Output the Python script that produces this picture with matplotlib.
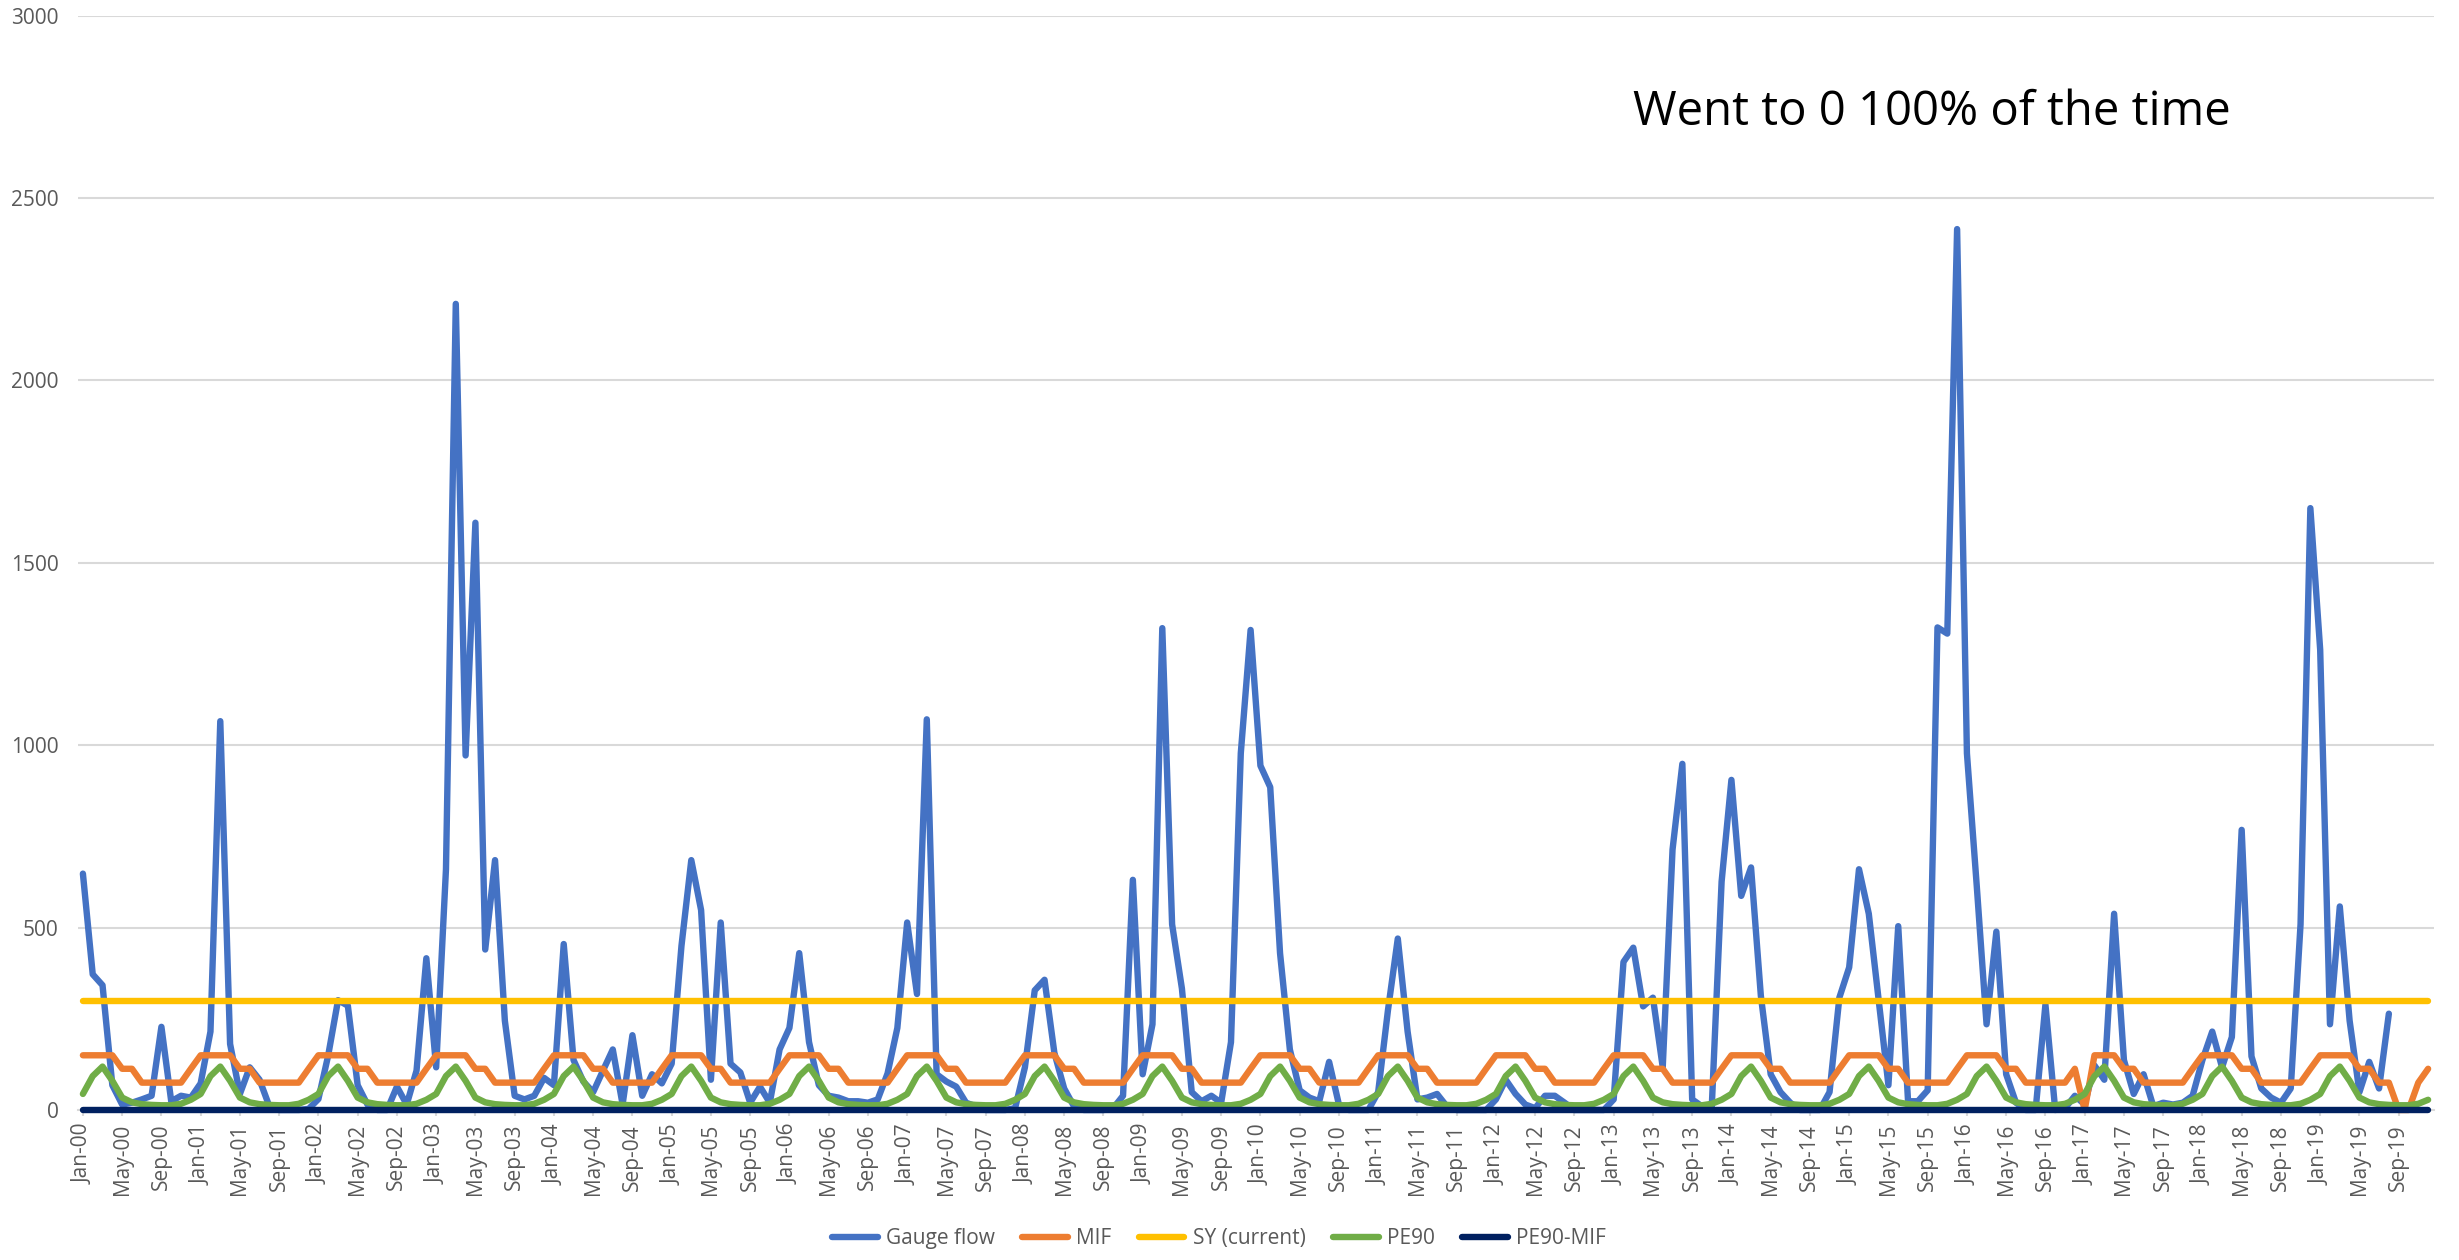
import matplotlib
matplotlib.use("Agg")
import matplotlib.pyplot as plt

plt.rcParams['font.family'] = ['Open Sans', 'DejaVu Sans']

# ---- categories (monthly, Jan-00 .. Dec-19) ----
month_names = ["Jan", "Feb", "Mar", "Apr", "May", "Jun",
               "Jul", "Aug", "Sep", "Oct", "Nov", "Dec"]
years = ["00", "01", "02", "03", "04", "05", "06", "07", "08", "09",
         "10", "11", "12", "13", "14", "15", "16", "17", "18", "19"]
months = [f"{m}-{y}" for y in years for m in month_names]

# ---- series values ----
gauge_flow = [
    648, 372, 342, 68, 15, 20, 29, 39, 228, 24, 39, 34,          # 2000
    73, 215, 1066, 181, 44, 117, 83, 10, 0, 0, 0, 3,             # 2001
    30, 150, 301, 286, 68, 15, 0, 0, 64, 15, 108, 416,           # 2002
    117, 660, 2210, 972, 1610, 440, 685, 245, 39, 29, 39, 88,    # 2003
    68, 455, 137, 78, 49, 108, 166, 15, 205, 39, 98, 73,         # 2004
    127, 450, 685, 548, 83, 514, 127, 103, 20, 64, 20, 166,      # 2005
    225, 430, 186, 68, 39, 34, 24, 24, 20, 29, 100, 225,         # 2006
    514, 318, 1071, 98, 78, 64, 20, 10, 0, 0, 0, 5,              # 2007
    117, 328, 357, 157, 59, 10, 0, 0, 0, 5, 39, 631,             # 2008
    98, 235, 1321, 509, 333, 49, 24, 39, 20, 186, 978, 1316,     # 2009
    944, 885, 430, 166, 54, 34, 24, 132, 15, 0, 0, 0,            # 2010
    49, 274, 470, 215, 29, 34, 44, 10, 0, 0, 0, 0,               # 2011
    29, 83, 44, 15, 5, 39, 39, 20, 0, 0, 0, 0,                   # 2012
    29, 406, 445, 284, 308, 117, 714, 949, 29, 10, 10, 626,      # 2013
    905, 587, 665, 313, 98, 49, 20, 0, 0, 0, 49, 308,            # 2014
    391, 660, 538, 303, 68, 504, 24, 24, 54, 1323, 1306, 2415,   # 2015
    978, 615, 235, 489, 98, 20, 0, 0, 289, 0, 5, 39,             # 2016
    15, 122, 83, 538, 137, 44, 98, 10, 20, 15, 20, 39,           # 2017
    137, 215, 117, 200, 768, 147, 59, 34, 20, 59, 509, 1650,     # 2018
    1262, 235, 558, 245, 49, 132, 59, 264,                       # 2019 (to Aug)
]

mif = [
    150, 150, 150, 150, 113, 113, 75, 75, 75, 75, 75, 113,   # 2000
    150, 150, 150, 150, 113, 113, 75, 75, 75, 75, 75, 113,   # 2001
    150, 150, 150, 150, 113, 113, 75, 75, 75, 75, 75, 113,   # 2002
    150, 150, 150, 150, 113, 113, 75, 75, 75, 75, 75, 113,   # 2003
    150, 150, 150, 150, 113, 113, 75, 75, 75, 75, 75, 113,   # 2004
    150, 150, 150, 150, 113, 113, 75, 75, 75, 75, 75, 113,   # 2005
    150, 150, 150, 150, 113, 113, 75, 75, 75, 75, 75, 113,   # 2006
    150, 150, 150, 150, 113, 113, 75, 75, 75, 75, 75, 113,   # 2007
    150, 150, 150, 150, 113, 113, 75, 75, 75, 75, 75, 113,   # 2008
    150, 150, 150, 150, 113, 113, 75, 75, 75, 75, 75, 113,   # 2009
    150, 150, 150, 150, 113, 113, 75, 75, 75, 75, 75, 113,   # 2010
    150, 150, 150, 150, 113, 113, 75, 75, 75, 75, 75, 113,   # 2011
    150, 150, 150, 150, 113, 113, 75, 75, 75, 75, 75, 113,   # 2012
    150, 150, 150, 150, 113, 113, 75, 75, 75, 75, 75, 113,   # 2013
    150, 150, 150, 150, 113, 113, 75, 75, 75, 75, 75, 113,   # 2014
    150, 150, 150, 150, 113, 113, 75, 75, 75, 75, 75, 113,   # 2015
    150, 150, 150, 150, 113, 113, 75, 75, 75, 75, 75, 113,   # 2016
    0, 150, 150, 150, 113, 113, 75, 75, 75, 75, 75, 113,     # 2017
    150, 150, 150, 150, 113, 113, 75, 75, 75, 75, 75, 113,   # 2018
    150, 150, 150, 150, 113, 113, 75, 75, 0, 0, 75, 113,     # 2019
]

pe90 = [
    44, 93, 119, 80, 34, 21, 16, 14, 13, 13, 17, 28,   # 2000
    44, 93, 119, 80, 34, 21, 16, 14, 13, 13, 17, 28,   # 2001
    44, 93, 119, 80, 34, 21, 16, 14, 13, 13, 17, 28,   # 2002
    44, 93, 119, 80, 34, 21, 16, 14, 13, 13, 17, 28,   # 2003
    44, 93, 119, 80, 34, 21, 16, 14, 13, 13, 17, 28,   # 2004
    44, 93, 119, 80, 34, 21, 16, 14, 13, 13, 17, 28,   # 2005
    44, 93, 119, 80, 34, 21, 16, 14, 13, 13, 17, 28,   # 2006
    44, 93, 119, 80, 34, 21, 16, 14, 13, 13, 17, 28,   # 2007
    44, 93, 119, 80, 34, 21, 16, 14, 13, 13, 17, 28,   # 2008
    44, 93, 119, 80, 34, 21, 16, 14, 13, 13, 17, 28,   # 2009
    44, 93, 119, 80, 34, 21, 16, 14, 13, 13, 17, 28,   # 2010
    44, 93, 119, 80, 34, 21, 16, 14, 13, 13, 17, 28,   # 2011
    44, 93, 119, 80, 34, 21, 16, 14, 13, 13, 17, 28,   # 2012
    44, 93, 119, 80, 34, 21, 16, 14, 13, 13, 17, 28,   # 2013
    44, 93, 119, 80, 34, 21, 16, 14, 13, 13, 17, 28,   # 2014
    44, 93, 119, 80, 34, 21, 16, 14, 13, 13, 17, 28,   # 2015
    44, 93, 119, 80, 34, 21, 16, 14, 13, 13, 17, 28,   # 2016
    44, 93, 119, 80, 34, 21, 16, 14, 13, 13, 17, 28,   # 2017
    44, 93, 119, 80, 34, 21, 16, 14, 13, 13, 17, 28,   # 2018
    44, 93, 119, 80, 34, 21, 16, 14, 13, 13, 17, 28,   # 2019
]

sy_current = [300] * len(months)
pe90_minus_mif = [0] * len(months)

series_names = ["Gauge flow", "MIF", "SY (current)", "PE90", "PE90-MIF"]
series_colors = ["#4472C4", "#ED7D31", "#FFC000", "#70AD47", "#002060"]

y_ticks = [0, 500, 1000, 1500, 2000, 2500, 3000]
annotation = "Went to 0 100% of the time"

# ---- figure ----
W, H, DPI = 2459, 1260, 200
fig = plt.figure(figsize=(W / DPI, H / DPI), dpi=DPI)
ax = fig.add_axes([78 / W, 1 - 1110 / H, (2434 - 78) / W, (1110 - 15.7) / H])

all_series = [gauge_flow, mif, sy_current, pe90, pe90_minus_mif]
for k, (vals, name, col) in enumerate(zip(all_series, series_names, series_colors)):
    x = list(range(len(vals)))
    ax.plot(x, vals, color=col, lw=2.3, label=name, zorder=3 + k,
            solid_capstyle='round', solid_joinstyle='round', clip_on=False)

ax.set_xlim(-0.5, 239.6)
ax.set_ylim(0, 3000)
ax.set_yticks(y_ticks)
ax.set_yticklabels([str(v) for v in y_ticks])
tick_pos = list(range(0, len(months), 4))
ax.set_xticks(tick_pos)
ax.set_xticklabels([months[i] for i in tick_pos], rotation=90)

ax.grid(axis='y', color='#D9D9D9', lw=0.75, zorder=0)
ax.set_axisbelow(True)
for s in ['top', 'right', 'left']:
    ax.spines[s].set_visible(False)
ax.spines['bottom'].set_color('#D9D9D9')
ax.spines['bottom'].set_linewidth(0.75)

ax.tick_params(axis='y', length=0, pad=7, labelsize=7.5, labelcolor='#595959')
ax.tick_params(axis='x', length=2, width=0.75, color='#D9D9D9', pad=3,
               labelsize=7.5, labelcolor='#595959')

fig.text(1932 / W, 1 - 112 / H, annotation, fontsize=17, color='black',
         ha='center', va='center')

fig.legend(loc='center', bbox_to_anchor=(0.4957, 0.0167), ncol=5, frameon=False,
           fontsize=7.5, handlelength=2.2, handletextpad=0.4, columnspacing=1.3,
           labelcolor='#595959')

fig.savefig("out.png", dpi=DPI)
